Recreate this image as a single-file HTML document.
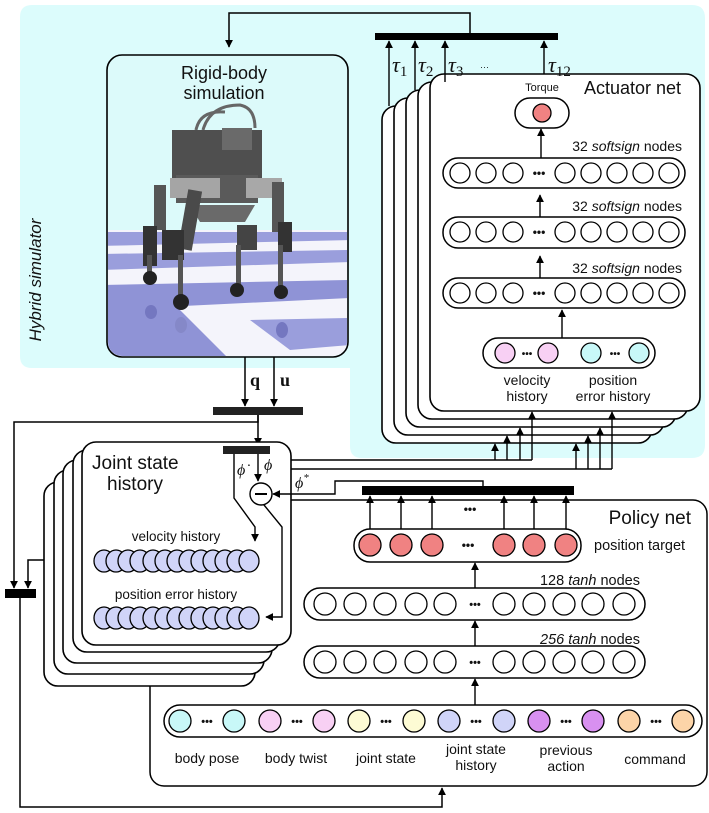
<!DOCTYPE html>
<html><head><meta charset="utf-8"><style>
html,body{margin:0;padding:0;background:#fff}
svg{display:block}
text{font-family:"Liberation Sans",sans-serif;fill:#111}
.s{font-family:"Liberation Serif",serif;font-style:italic}
</style></head><body>
<svg width="709" height="813" viewBox="0 0 709 813" xmlns="http://www.w3.org/2000/svg">
<defs>
<marker id="a" viewBox="0 0 10 10" refX="9" refY="5" markerWidth="8" markerHeight="8" markerUnits="userSpaceOnUse" orient="auto"><path d="M0,0 L10,5 L0,10 z" fill="#000"/></marker>
<clipPath id="img"><rect x="108" y="56" width="239" height="300" rx="14"/></clipPath>
</defs>
<path d="M32,5 H692 Q705,5 705,18 V445 Q705,458 692,458 H362 Q350,458 350,446 V368 H32 Q20,368 20,356 V17 Q20,5 32,5 Z" fill="#dcfcfc"/>
<text transform="translate(41,280) rotate(-90)" text-anchor="middle" font-size="17" fill="#333" style="font-style:italic">Hybrid simulator</text>

<g clip-path="url(#img)">
<rect x="100" y="50" width="260" height="320" fill="#dcfafa"/>
<rect x="100" y="230" width="260" height="140" fill="#f4f4fb"/>
<polygon points="100,232 350,232 350,240 100,246" fill="#9a9edc"/>
<polygon points="100,254 350,250 350,262 100,270" fill="#9a9edc"/>
<polygon points="100,285 350,280 350,298 100,310" fill="#8f93d6"/>
<polygon points="108,300 170,300 230,360 108,360" fill="#8f93d6"/>
<polygon points="250,320 350,318 350,345 290,350" fill="#9a9edc"/>
<g fill="#555">
<path d="M196,130 Q200,110 225,112" stroke="#666" stroke-width="3" fill="none"/>
<path d="M203,130 Q210,105 240,105 Q255,108 255,128" stroke="#666" stroke-width="3" fill="none"/>
<rect x="172" y="130" width="90" height="48" fill="#4f4f4f"/>
<rect x="222" y="128" width="30" height="22" fill="#6a6a6a"/>
<rect x="176" y="175" width="82" height="28" fill="#5a5a5a"/>
<rect x="170" y="178" width="50" height="20" fill="#a5a5a5"/>
<rect x="246" y="178" width="36" height="20" fill="#a8a8a8"/>
<polygon points="190,205 255,205 245,222 200,222" fill="#6a6a6a"/>
<rect x="154" y="185" width="12" height="45" fill="#555"/>
<rect x="272" y="182" width="12" height="50" fill="#555"/>
<rect x="183" y="190" width="14" height="60" fill="#4a4a4a" transform="rotate(10 190 220)"/>
<rect x="237" y="225" width="20" height="25" fill="#444"/>
<rect x="143" y="226" width="14" height="40" fill="#333"/>
<rect x="162" y="230" width="22" height="30" fill="#333"/>
<rect x="278" y="222" width="14" height="30" fill="#333"/>
<rect x="147" y="255" width="5" height="25" fill="#555"/>
<rect x="178" y="255" width="5" height="45" fill="#555"/>
<rect x="236" y="245" width="5" height="42" fill="#555"/>
<rect x="278" y="245" width="5" height="42" fill="#555"/>
<ellipse cx="150" cy="278" rx="7" ry="7" fill="#222"/>
<ellipse cx="181" cy="302" rx="8" ry="8" fill="#222"/>
<ellipse cx="237" cy="290" rx="7" ry="7" fill="#222"/>
<ellipse cx="281" cy="292" rx="7" ry="7" fill="#222"/>
<ellipse cx="151" cy="312" rx="6" ry="7" fill="#7477c0"/>
<ellipse cx="181" cy="325" rx="6" ry="8" fill="#8588c8"/>
<ellipse cx="282" cy="330" rx="6" ry="8" fill="#7477c0"/>
</g>
</g>
<rect x="107" y="55" width="241" height="302" rx="15" fill="none" stroke="#000" stroke-width="1.6"/>
<text x="224" y="79" text-anchor="middle" font-size="18">Rigid-body</text>
<text x="224" y="99" text-anchor="middle" font-size="18">simulation</text>

<polyline points="470,33 470,13 229,13 229,47" fill="none" stroke="#000" stroke-width="1.5" marker-end="url(#a)"/>
<rect x="375" y="33" width="183" height="7" fill="#000"/>

<g fill="#fff" stroke="#000" stroke-width="1.6">
<rect x="382" y="106" width="270" height="337" rx="14"/>
<rect x="394" y="98" width="270" height="337" rx="14"/>
<rect x="406" y="90" width="270" height="337" rx="14"/>
<rect x="418" y="82" width="270" height="337" rx="14"/>
<rect x="430" y="74" width="270" height="337" rx="14"/>
</g>
<g stroke="#000" stroke-width="1.4" marker-end="url(#a)">
<line x1="389" y1="106" x2="389" y2="41"/>
<line x1="415" y1="90" x2="415" y2="41"/>
<line x1="445" y1="82" x2="445" y2="41"/>
<line x1="544" y1="74" x2="544" y2="41"/>
</g>
<text class="s" x="392" y="72" font-size="22">τ<tspan font-size="15" dy="4" font-style="normal">1</tspan></text>
<text class="s" x="418" y="72" font-size="22">τ<tspan font-size="15" dy="4" font-style="normal">2</tspan></text>
<text class="s" x="448" y="72" font-size="22">τ<tspan font-size="15" dy="4" font-style="normal">3</tspan></text>
<text x="480" y="70" font-size="9">···</text>
<text class="s" x="548" y="72" font-size="22">τ<tspan font-size="15" dy="4" font-style="normal">12</tspan></text>

<text x="542" y="91" text-anchor="middle" font-size="11">Torque</text>
<text x="584" y="94" font-size="18">Actuator net</text>
<rect x="515" y="98" width="54" height="30" rx="15" fill="#fff" stroke="#000" stroke-width="1.5"/>
<circle cx="542" cy="113" r="9" fill="#f08282" stroke="#000" stroke-width="1.3"/>

<g font-size="14">
<text x="682" y="151" text-anchor="end">32 <tspan font-style="italic">softsign</tspan> nodes</text>
<text x="682" y="211" text-anchor="end">32 <tspan font-style="italic">softsign</tspan> nodes</text>
<text x="682" y="273" text-anchor="end">32 <tspan font-style="italic">softsign</tspan> nodes</text>
</g>
<g stroke="#000" stroke-width="1.4" marker-end="url(#a)">
<line x1="541" y1="158" x2="541" y2="129"/>
<line x1="540" y1="217" x2="540" y2="195"/>
<line x1="540" y1="278" x2="540" y2="256"/>
<line x1="562" y1="338" x2="562" y2="310"/>
</g>
<g fill="#fff" stroke="#000" stroke-width="1.5">
<rect x="443" y="158" width="242" height="30" rx="15"/>
<rect x="443" y="217" width="242" height="31" rx="15"/>
<rect x="443" y="278" width="242" height="30" rx="15"/>
</g>
<g fill="#fff" stroke="#000" stroke-width="1.3">
<g id="arow">
<circle cx="460" cy="173" r="10"/><circle cx="486" cy="173" r="10"/><circle cx="513" cy="173" r="10"/>
<circle cx="565" cy="173" r="10"/><circle cx="591" cy="173" r="10"/><circle cx="617" cy="173" r="10"/><circle cx="643" cy="173" r="10"/><circle cx="669" cy="173" r="10"/>
</g>
<use href="#arow" y="59"/>
<use href="#arow" y="120"/>
</g>
<g font-size="12" font-weight="bold">
<text x="539" y="177" text-anchor="middle">•••</text>
<text x="539" y="236" text-anchor="middle">•••</text>
<text x="539" y="297" text-anchor="middle">•••</text>
</g>
<rect x="483" y="338" width="172" height="30" rx="15" fill="#fff" stroke="#000" stroke-width="1.5"/>
<g stroke="#000" stroke-width="1.3">
<circle cx="505" cy="353" r="10" fill="#f8d0f4"/><circle cx="548" cy="353" r="10" fill="#f8d0f4"/>
<circle cx="591" cy="353" r="10" fill="#c8f8f8"/><circle cx="639" cy="353" r="10" fill="#c8f8f8"/>
</g>
<text x="527" y="357" text-anchor="middle" font-size="10" font-weight="bold">•••</text>
<text x="615" y="357" text-anchor="middle" font-size="10" font-weight="bold">•••</text>
<g font-size="14" text-anchor="middle">
<text x="527" y="385">velocity</text><text x="527" y="401">history</text>
<text x="613" y="385">position</text><text x="613" y="401">error history</text>
</g>

<g stroke="#000" stroke-width="1.5" marker-end="url(#a)">
<line x1="245" y1="357" x2="245" y2="406"/>
<line x1="274" y1="357" x2="274" y2="406"/>
</g>
<text x="250" y="386" font-size="18" font-weight="bold" style="font-family:'Liberation Serif',serif">q</text>
<text x="280" y="386" font-size="18" font-weight="bold" style="font-family:'Liberation Serif',serif">u</text>
<rect x="213" y="407" width="90" height="8" fill="#222"/>

<rect x="150" y="500" width="557" height="286" rx="14" fill="#fff" stroke="#000" stroke-width="1.5"/>

<polyline points="258,415 258,422 14,422 14,588" fill="none" stroke="#000" stroke-width="1.5" marker-end="url(#a)"/>
<polyline points="44,560 28,560 28,588" fill="none" stroke="#000" stroke-width="1.5" marker-end="url(#a)"/>
<rect x="5" y="589" width="31" height="9" fill="#000"/>
<polyline points="20,598 20,807 442,807 442,788" fill="none" stroke="#000" stroke-width="1.5" marker-end="url(#a)"/>
<line x1="258" y1="415" x2="258" y2="445" stroke="#000" stroke-width="1.5" marker-end="url(#a)"/>

<g fill="none" stroke="#000" stroke-width="1.4">
<polyline points="280,460 532,460"/>
<polyline points="280,469 612,469"/>
</g>
<g stroke="#000" stroke-width="1.4" marker-end="url(#a)">
<line x1="495" y1="460" x2="495" y2="444"/>
<line x1="507" y1="460" x2="507" y2="436"/>
<line x1="520" y1="460" x2="520" y2="428"/>
<line x1="532" y1="460" x2="532" y2="412"/>
<line x1="576" y1="469" x2="576" y2="444"/>
<line x1="588" y1="469" x2="588" y2="436"/>
<line x1="600" y1="469" x2="600" y2="428"/>
<line x1="612" y1="469" x2="612" y2="412"/>
</g>

<g fill="#fff" stroke="#000" stroke-width="1.6">
<rect x="44" y="482" width="211" height="204" rx="14"/>
<rect x="54" y="470" width="210" height="204" rx="14"/>
<rect x="63" y="460" width="209" height="203" rx="14"/>
<rect x="73" y="450" width="207" height="202" rx="14"/>
<rect x="82" y="442" width="209" height="203" rx="14"/>
</g>
<text x="92" y="469" font-size="19">Joint state</text>
<text x="107" y="490" font-size="19">history</text>
<rect x="223" y="446" width="47" height="8" fill="#222"/>
<polyline points="234,454 234,498 255,527 255,541" fill="none" stroke="#000" stroke-width="1.4" marker-end="url(#a)"/>
<line x1="258" y1="454" x2="258" y2="481" stroke="#000" stroke-width="1.4" marker-end="url(#a)"/>
<circle cx="261" cy="494" r="11" fill="#fff" stroke="#000" stroke-width="1.4"/>
<line x1="255" y1="494" x2="267" y2="494" stroke="#000" stroke-width="2"/>
<polyline points="264,505 282,527 282,617 266,617" fill="none" stroke="#000" stroke-width="1.4" marker-end="url(#a)"/>
<text class="s" x="237" y="475" font-size="16">ϕ̇</text>
<text class="s" x="264" y="470" font-size="16">ϕ</text>
<text class="s" x="295" y="488" font-size="16">ϕ<tspan font-size="11" dy="-7">*</tspan></text>
<polyline points="483,486 483,481 335,481 335,494 273,494" fill="none" stroke="#000" stroke-width="1.4" marker-end="url(#a)"/>
<rect x="362" y="486" width="212" height="9" fill="#000"/>

<text x="176" y="541" text-anchor="middle" font-size="13.5">velocity history</text>
<text x="176" y="599" text-anchor="middle" font-size="13.5">position error history</text>
<g fill="#d0d4f8" stroke="#000" stroke-width="1.3" id="vrow">
<ellipse cx="104" cy="561" rx="10" ry="11"/><ellipse cx="116" cy="561" rx="10" ry="11"/><ellipse cx="128" cy="561" rx="10" ry="11"/><ellipse cx="140" cy="561" rx="10" ry="11"/><ellipse cx="153" cy="561" rx="10" ry="11"/><ellipse cx="165" cy="561" rx="10" ry="11"/><ellipse cx="177" cy="561" rx="10" ry="11"/><ellipse cx="189" cy="561" rx="10" ry="11"/><ellipse cx="201" cy="561" rx="10" ry="11"/><ellipse cx="213" cy="561" rx="10" ry="11"/><ellipse cx="225" cy="561" rx="10" ry="11"/><ellipse cx="237" cy="561" rx="10" ry="11"/><ellipse cx="249" cy="561" rx="10" ry="11"/>
</g>
<use href="#vrow" y="57"/>

<text x="691" y="524" text-anchor="end" font-size="19">Policy net</text>
<text x="470" y="513" text-anchor="middle" font-size="12" font-weight="bold">•••</text>
<g stroke="#000" stroke-width="1.4" marker-end="url(#a)">
<line x1="370" y1="534" x2="370" y2="496"/>
<line x1="401" y1="534" x2="401" y2="496"/>
<line x1="432" y1="534" x2="432" y2="496"/>
<line x1="504" y1="534" x2="504" y2="496"/>
<line x1="534" y1="534" x2="534" y2="496"/>
<line x1="566" y1="534" x2="566" y2="496"/>
<line x1="475" y1="588" x2="475" y2="563"/>
<line x1="475" y1="646" x2="475" y2="621"/>
<line x1="475" y1="705" x2="475" y2="679"/>
</g>
<rect x="354" y="529" width="227" height="33" rx="16" fill="#fff" stroke="#000" stroke-width="1.5"/>
<g fill="#f08282" stroke="#000" stroke-width="1.3">
<circle cx="370" cy="545" r="11"/><circle cx="401" cy="545" r="11"/><circle cx="432" cy="545" r="11"/>
<circle cx="504" cy="545" r="11"/><circle cx="534" cy="545" r="11"/><circle cx="566" cy="545" r="11"/>
</g>
<text x="468" y="549" text-anchor="middle" font-size="12" font-weight="bold">•••</text>
<text x="594" y="550" font-size="14.5">position target</text>
<text x="640" y="585" text-anchor="end" font-size="14.5">128 <tspan font-style="italic">tanh</tspan> nodes</text>
<text x="640" y="644" text-anchor="end" font-size="14.5"><tspan font-style="italic">256 tanh</tspan> nodes</text>
<g fill="#fff" stroke="#000" stroke-width="1.5">
<rect x="304" y="588" width="341" height="32" rx="16"/>
<rect x="304" y="646" width="341" height="32" rx="16"/>
</g>
<g fill="#fff" stroke="#000" stroke-width="1.3" id="prow">
<circle cx="325" cy="604" r="11"/><circle cx="355" cy="604" r="11"/><circle cx="385" cy="604" r="11"/><circle cx="416" cy="604" r="11"/><circle cx="445" cy="604" r="11"/>
<circle cx="504" cy="604" r="11"/><circle cx="534" cy="604" r="11"/><circle cx="564" cy="604" r="11"/><circle cx="593" cy="604" r="11"/><circle cx="624" cy="604" r="11"/>
</g>
<use href="#prow" y="58"/>
<text x="475" y="608" text-anchor="middle" font-size="11" font-weight="bold">•••</text>
<text x="475" y="666" text-anchor="middle" font-size="11" font-weight="bold">•••</text>

<rect x="164" y="705" width="538" height="32" rx="16" fill="#fff" stroke="#000" stroke-width="1.5"/>
<g stroke="#000" stroke-width="1.3">
<circle cx="180" cy="721" r="11" fill="#c8f8f8"/><circle cx="234" cy="721" r="11" fill="#c8f8f8"/>
<circle cx="270" cy="721" r="11" fill="#f8d0f4"/><circle cx="324" cy="721" r="11" fill="#f8d0f4"/>
<circle cx="359" cy="721" r="11" fill="#fdfbd4"/><circle cx="414" cy="721" r="11" fill="#fdfbd4"/>
<circle cx="449" cy="721" r="11" fill="#d0d4f8"/><circle cx="504" cy="721" r="11" fill="#d0d4f8"/>
<circle cx="539" cy="721" r="11" fill="#d890f0"/><circle cx="593" cy="721" r="11" fill="#d890f0"/>
<circle cx="629" cy="721" r="11" fill="#fcd4a8"/><circle cx="683" cy="721" r="11" fill="#fcd4a8"/>
</g>
<g font-size="11" font-weight="bold" text-anchor="middle">
<text x="207" y="725">•••</text><text x="297" y="725">•••</text><text x="386" y="725">•••</text>
<text x="476" y="725">•••</text><text x="566" y="725">•••</text><text x="656" y="725">•••</text>
</g>
<g font-size="14" text-anchor="middle">
<text x="207" y="763">body pose</text>
<text x="296" y="763">body twist</text>
<text x="386" y="763">joint state</text>
<text x="476" y="754">joint state</text><text x="476" y="770">history</text>
<text x="566" y="755">previous</text><text x="566" y="771">action</text>
<text x="655" y="764">command</text>
</g>
</svg>
</body></html>
